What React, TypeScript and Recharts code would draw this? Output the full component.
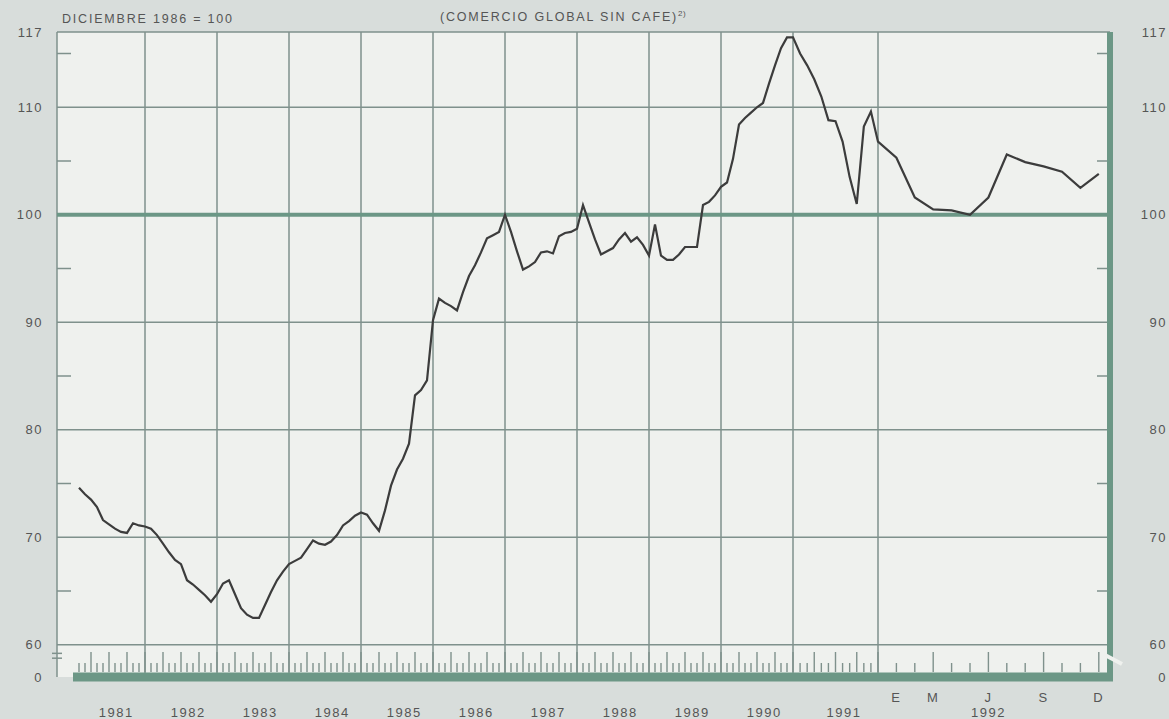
import React from "react";
import { LineChart, Line, XAxis, YAxis, CartesianGrid, ReferenceLine } from "recharts";

// Índice mensual (diciembre 1986 = 100)
const idx1981 = [74.6, 74.0, 73.5, 72.8, 71.6, 71.2, 70.8, 70.5, 70.4, 71.3, 71.1, 71.0];
const idx1982 = [70.8, 70.2, 69.4, 68.6, 67.9, 67.5, 66.0, 65.6, 65.1, 64.6, 64.0, 64.7];
const idx1983 = [65.7, 66.0, 64.7, 63.4, 62.8, 62.5, 62.5, 63.7, 64.9, 66.0, 66.8, 67.5];
const idx1984 = [67.8, 68.1, 68.9, 69.7, 69.4, 69.3, 69.6, 70.2, 71.1, 71.5, 72.0, 72.3];
const idx1985 = [72.1, 71.3, 70.6, 72.5, 74.8, 76.3, 77.3, 78.7, 83.2, 83.7, 84.6, 90.2];
const idx1986 = [92.2, 91.8, 91.5, 91.1, 92.8, 94.3, 95.3, 96.5, 97.8, 98.1, 98.4, 100.0];
const idx1987 = [98.4, 96.6, 94.9, 95.2, 95.6, 96.5, 96.6, 96.4, 98.0, 98.3, 98.4, 98.7];
const idx1988 = [100.9, 99.3, 97.7, 96.3, 96.6, 96.9, 97.7, 98.3, 97.5, 97.9, 97.2, 96.2];
const idx1989 = [99.1, 96.2, 95.8, 95.8, 96.3, 97.0, 97.0, 97.0, 100.9, 101.2, 101.8, 102.6];
const idx1990 = [103.0, 105.2, 108.4, 109.0, 109.5, 110.0, 110.4, 112.2, 113.9, 115.5, 116.5, 116.5];
const idx1991 = [115.0, 113.9, 112.6, 111.0, 108.8, 108.7, 106.8, 103.5, 101.0, 108.2, 109.6, 106.8];
const idx1992 = [105.3, 101.6, 100.5, 100.4, 100.0, 101.6, 105.6, 104.9, 104.5, 104.0, 102.5, 103.8];

const YEARS = [1981, 1982, 1983, 1984, 1985, 1986, 1987, 1988, 1989, 1990, 1991, 1992];
const SERIES = [idx1981, idx1982, idx1983, idx1984, idx1985, idx1986, idx1987, idx1988, idx1989, idx1990, idx1991, idx1992];

const MONTH_LETTERS = ["E", "M", "J", "S", "D"];
const MONTH_LETTER_IDX = [0, 2, 5, 8, 11];

const Y_LABELS = [0, 60, 70, 80, 90, 100, 110, 117];
const Y_GRID = [60, 70, 80, 90, 110, 117];
const Y_MINOR = [65, 75, 85, 95, 105, 115];

// axis break: "0" sits just under 60
const AXIS_BREAK = 57;
const X_START = 16;
const X_END = 1053;

const PAGE_BG = "#d8dddb";
const PLOT_BG = "#eff1ee";
const GRID = "#7f918c";
const GREEN = "#6c9786";
const TEXT = "#555";
const FONT = "'Liberation Sans', Arial, sans-serif";

// 1981-90 compressed, 1991 a bit wider, 1992 stretched by month
const monthWidth = (year: number) => (year <= 1990 ? 6 : year === 1991 ? 85 / 12 : 18.4);
const yearStart = (year: number) => {
  let p = X_START;
  for (let y = 1981; y < year; y++) p += 12 * monthWidth(y);
  return p;
};
const timePos = (year: number, m: number) => yearStart(year) + monthWidth(year) * (m + 1);

const data = SERIES.flatMap((vals, i) => vals.map((v, m) => ({ t: timePos(YEARS[i], m), v })));

// one bottom axis: month tick marks + year / month labels
type TickInfo = { h?: number; top?: string; bottom?: string };
const tickInfo = new Map<number, TickInfo>();
const info = (p: number) => {
  if (!tickInfo.has(p)) tickInfo.set(p, {});
  return tickInfo.get(p) as TickInfo;
};
YEARS.forEach((y) => {
  for (let m = 0; m < 12; m++) info(timePos(y, m)).h = m % 3 === 2 ? 20 : 9;
});
YEARS.slice(0, 11).forEach((y) => {
  info(yearStart(y) + 0.6 * 12 * monthWidth(y)).bottom = String(y);
});
MONTH_LETTER_IDX.forEach((m, i) => {
  const t = info(timePos(1992, m));
  t.top = MONTH_LETTERS[i];
  if (m === 5) t.bottom = "1992";
});
const xTicks = Array.from(tickInfo.keys()).sort((a, b) => a - b);

const yearBounds = [0, ...YEARS.slice(1).map(yearStart)];

const BottomTick = (props: any) => {
  const { x, y, payload } = props;
  const t = tickInfo.get(payload.value) || {};
  return (
    <g>
      {t.h && <line x1={x} x2={x} y1={y - 5} y2={y - 5 - t.h} stroke={GRID} strokeWidth={1.4} />}
      <g fill={TEXT} fontFamily={FONT} fontSize={13} letterSpacing={1.5} textAnchor="middle">
        {t.top && <text x={x} y={y + 25}>{t.top}</text>}
        {t.bottom && <text x={x} y={y + 40}>{t.bottom}</text>}
      </g>
    </g>
  );
};

const yText = (v: number) => (v === AXIS_BREAK ? "0" : String(v));

const LeftTick = (props: any) => {
  const { x, y, payload } = props;
  return (
    <text x={x} y={y + 4.5} textAnchor="end" fill={TEXT} fontFamily={FONT} fontSize={13} letterSpacing={1.5}>
      {yText(payload.value)}
    </text>
  );
};

const RightTick = (props: any) => {
  const { x, y, payload } = props;
  return (
    <text x={x + 57} y={y + 4.5} textAnchor="end" fill={TEXT} fontFamily={FONT} fontSize={13} letterSpacing={1.5}>
      {yText(payload.value)}
    </text>
  );
};

const yTicks = Y_LABELS.map((v) => (v === 0 ? AXIS_BREAK : v));

export default function App() {
  return (
    <div style={{ position: "absolute", left: 0, top: 0, width: 1169, height: 719, background: PAGE_BG, overflow: "hidden" }}>
      <LineChart width={1169} height={719} data={data} margin={{ top: 32, right: 0, bottom: 0, left: 7 }}>
        <CartesianGrid
          fill={PLOT_BG}
          stroke={GRID}
          strokeWidth={1.5}
          horizontalValues={Y_GRID}
          verticalValues={yearBounds}
        />
        <XAxis
          dataKey="t"
          type="number"
          domain={[0, X_END]}
          allowDataOverflow
          ticks={xTicks}
          interval={0}
          tick={<BottomTick />}
          tickSize={0}
          tickMargin={0}
          axisLine={false}
          tickLine={false}
          height={42}
        />
        <YAxis
          type="number"
          domain={[AXIS_BREAK, 117]}
          allowDataOverflow
          ticks={yTicks}
          interval={0}
          width={50}
          tickSize={0}
          tickMargin={14}
          axisLine={false}
          tickLine={false}
          tick={<LeftTick />}
        />
        <YAxis
          yAxisId="r"
          orientation="right"
          type="number"
          domain={[AXIS_BREAK, 117]}
          allowDataOverflow
          ticks={yTicks}
          interval={0}
          width={59}
          tickSize={0}
          tickMargin={0}
          axisLine={false}
          tickLine={false}
          tick={<RightTick />}
        />
        <ReferenceLine y={100} stroke={GREEN} strokeWidth={4} />
        {Y_MINOR.map((v) => (
          <ReferenceLine key={"l" + v} segment={[{ x: 0, y: v }, { x: 14, y: v }]} stroke={GRID} strokeWidth={1.5} />
        ))}
        {Y_MINOR.map((v) => (
          <ReferenceLine key={"r" + v} segment={[{ x: X_END - 13, y: v }, { x: X_END, y: v }]} stroke={GRID} strokeWidth={1.5} />
        ))}
        <ReferenceLine
          segment={[{ x: X_START, y: AXIS_BREAK }, { x: X_END + 3, y: AXIS_BREAK }]}
          stroke={GREEN}
          strokeWidth={9}
          ifOverflow="visible"
        />
        <ReferenceLine x={X_END} stroke={GREEN} strokeWidth={6} ifOverflow="visible" />
        {/* axis break marks */}
        <ReferenceLine segment={[{ x: -5, y: 59.2 }, { x: 5, y: 59.2 }]} stroke={GRID} strokeWidth={1.5} ifOverflow="visible" />
        <ReferenceLine segment={[{ x: -5, y: 58.75 }, { x: 5, y: 58.75 }]} stroke={GRID} strokeWidth={1.5} ifOverflow="visible" />
        <ReferenceLine segment={[{ x: X_END - 6, y: 59.1 }, { x: X_END + 12, y: 58.2 }]} stroke={PLOT_BG} strokeWidth={4} ifOverflow="visible" />
        <Line
          type="linear"
          dataKey="v"
          stroke="#3c3c3c"
          strokeWidth={2.2}
          dot={false}
          isAnimationActive={false}
        />
      </LineChart>
      <svg width={1169} height={719} style={{ position: "absolute", left: 0, top: 0, pointerEvents: "none" }}>
        <g fill={TEXT} fontFamily={FONT} fontSize={12.5} letterSpacing={1.8}>
          <text x={62} y={23}>DICIEMBRE 1986 = 100</text>
          <text x={440} y={21}>
            (COMERCIO GLOBAL SIN CAFE)
            <tspan fontSize={8} dy={-5} letterSpacing={0.5}>2)</tspan>
          </text>
        </g>
      </svg>
    </div>
  );
}
